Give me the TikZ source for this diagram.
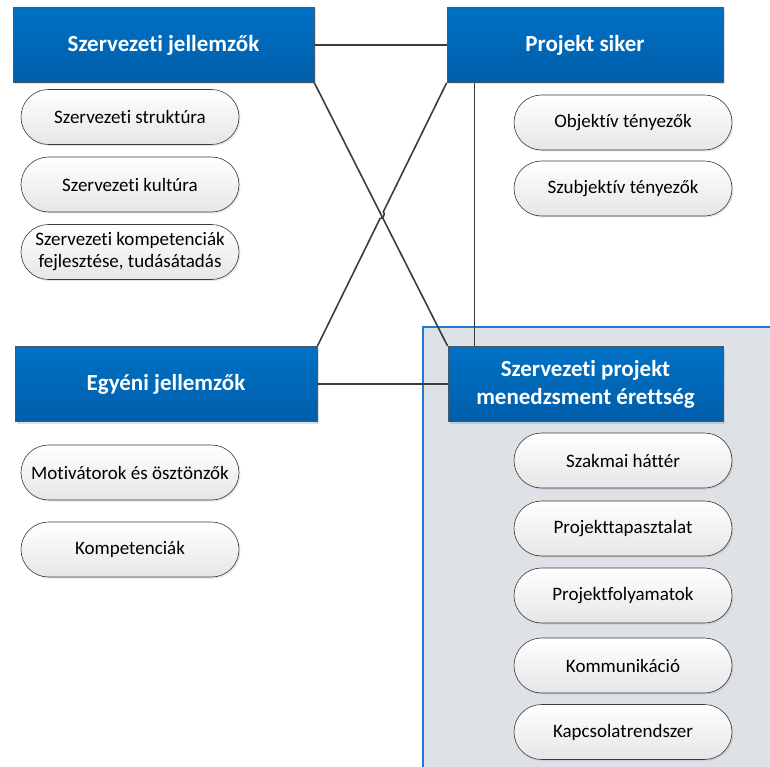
\documentclass[tikz,border=0pt]{standalone}
\usepackage{fontspec}
\setmainfont{Carlito}[Ligatures=NoCommon]
\usetikzlibrary{calc}
\usetikzlibrary{shapes.misc,shadows}

\definecolor{boxtop}{HTML}{0071C4}
\definecolor{boxbot}{HTML}{005EAA}
\definecolor{boxedge}{HTML}{44586E}
\definecolor{pilledge}{HTML}{3A3A3A}
\definecolor{pillbot}{HTML}{E6E6E6}
\definecolor{panelfill}{HTML}{DEE1E5}
\definecolor{paneledge}{HTML}{1F7BD0}
\definecolor{linkgray}{HTML}{3C3C3C}

\tikzset{
  every factor/.style={draw=boxedge, line width=0.8pt, top color=boxtop,
    bottom color=boxbot, text=white, align=center, inner sep=2pt,
    font=\fontsize{23}{28}\selectfont\bfseries, minimum height=75pt,
    drop shadow={shadow xshift=2pt, shadow yshift=-2pt, opacity=0.25}},
  every item/.style={rounded rectangle, draw=pilledge, line width=0.6pt,
    top color=white, bottom color=pillbot, align=center, inner sep=1pt,
    font=\fontsize{19}{22}\selectfont, minimum width=220pt, minimum height=55pt,
    drop shadow={shadow xshift=1.5pt, shadow yshift=-1.5pt, opacity=0.2}},
  link/.style={draw=linkgray, line width=1.6pt}
}

\begin{document}
\begin{tikzpicture}[x=1pt, y=-1pt]
\useasboundingbox (0,0) rectangle (770,767);

% hatter a menedzsment blokk alatt
\filldraw[fill=panelfill, draw=paneledge, line width=2pt] (423,327) rectangle (790,790);

% fo blokkok
\node [every factor, minimum width=301pt] (szj) at (163.5,45) {Szervezeti jellemzők};
\node [every factor, minimum width=276pt] (ps) at (585,45) {Projekt siker};
\node [every factor, minimum width=302pt] (ej) at (166,384) {Egyéni jellemzők};
\node [every factor, minimum width=275pt] (spme) at (585.5,384)
  {Szervezeti projekt\\menedzsment érettség};

% szervezeti jellemzok elemei
\foreach \l/\y [count=\i] in {Szervezeti struktúra/117, Szervezeti kultúra/184.5,
    {Szervezeti kompetenciák\\fejlesztése, tudásátadás}/252}
  \node [every item] (szj-\i) at (130,\y) {\l};

% egyeni jellemzok elemei
\foreach \l/\y [count=\i] in {Motivátorok és ösztönzők/472.5, Kompetenciák/549.5}
  \node [every item] (ej-\i) at (130,\y) {\l};

% projekt siker elemei
\foreach \l/\y [count=\i] in {Objektív tényezők/122.5, Szubjektív tényezők/188.5}
  \node [every item] (ps-\i) at (623,\y) {\l};

% erettseg elemei
\foreach \l/\y [count=\i] in {Szakmai háttér/460.5, Projekttapasztalat/528.5,
    Projektfolyamatok/595.5, Kommunikáció/665.5, Kapcsolatrendszer/732}
  \node [every item] (spme-\i) at (623,\y) {\l};

% kapcsolatok
\draw [link] (szj.east) -- (ps.west);
\draw [link] (szj.south east) -- (spme.north west);
\draw [link] (ej.east) -- (spme.west);
\draw [link] ([xshift=28pt]ps.south west) -- ([xshift=27pt]spme.north west);

% atlo ugrassal a keresztezodesnel
\coordinate (hop-a) at ($(ps.south west)!0.49!(ej.north east)$);
\coordinate (hop-b) at ($(ps.south west)!0.515!(ej.north east)$);
\draw [link] (ps.south west) -- (hop-a) to[bend left=90] (hop-b) -- (ej.north east);

\end{tikzpicture}
\end{document}
